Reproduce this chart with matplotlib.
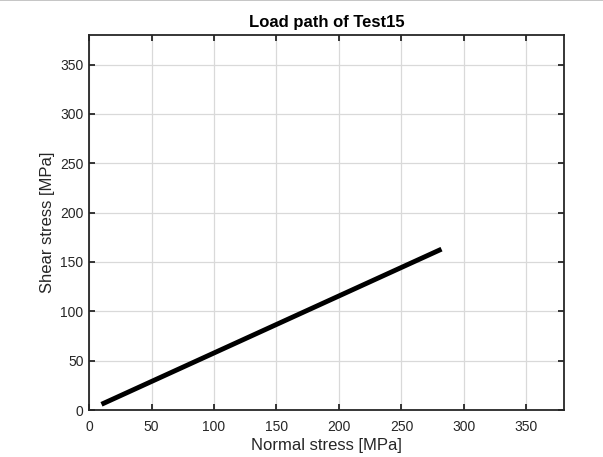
import matplotlib
matplotlib.use("Agg")
import matplotlib.pyplot as plt
from matplotlib.lines import Line2D

plt.rcParams['font.family'] = ['Liberation Sans', 'DejaVu Sans']

# Load path (normal stress vs shear stress), MPa
normal_stress = [10, 282]
shear_stress = [5.8, 163]

x_ticks = [0, 50, 100, 150, 200, 250, 300, 350]
y_ticks = [0, 50, 100, 150, 200, 250, 300, 350]
axis_max = 380

fig = plt.figure(figsize=(6.03, 4.57), dpi=100)
ax = fig.add_axes([0.1476, 0.1028, 0.7877, 0.8206])

ax.plot(normal_stress, shear_stress, color='black', linewidth=3.5, solid_capstyle='butt')

ax.set_xlim(0, axis_max)
ax.set_ylim(0, axis_max)
ax.set_xticks(x_ticks)
ax.set_yticks(y_ticks)
ax.grid(True, color='#d9d9d9', linewidth=0.9)
ax.set_axisbelow(True)

edge = '#262626'
for s in ax.spines.values():
    s.set_color(edge)
    s.set_linewidth(1.3)
ax.tick_params(direction='in', length=4, width=1.3, colors=edge, labelsize=10,
               top=True, right=True)
ax.tick_params(axis='x', pad=7)
ax.tick_params(axis='y', pad=4)
for lbl in ax.get_xticklabels() + ax.get_yticklabels():
    lbl.set_color(edge)

ax.set_xlabel('Normal stress [MPa]', fontsize=12, color=edge, labelpad=3)
ax.set_ylabel('Shear stress [MPa]', fontsize=12, color=edge, labelpad=4)
ax.set_title('Load path of Test15', fontsize=12, fontweight='bold', color='black', pad=6)

# thin frame line along the top of the canvas
fig.add_artist(Line2D([0, 1], [0.999, 0.999], transform=fig.transFigure,
                      color='#bbbbbb', linewidth=1.2))

fig.savefig('out.png', dpi=100)
